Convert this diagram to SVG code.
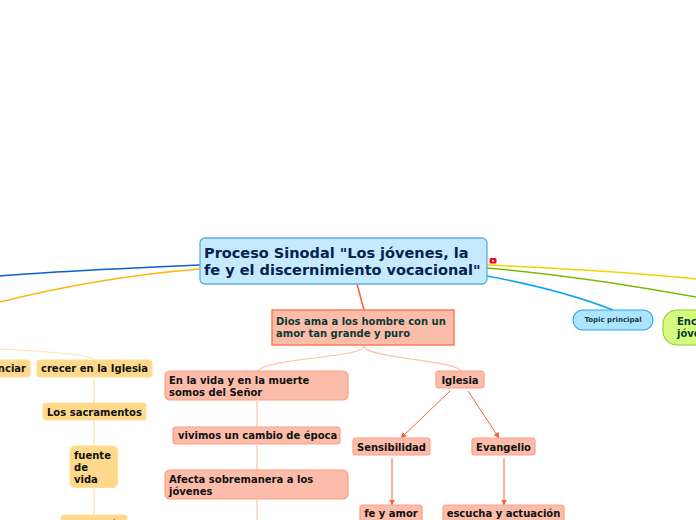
<svg xmlns="http://www.w3.org/2000/svg" width="696" height="520" viewBox="0 0 696 520">
<defs>
<marker id="arr" viewBox="0 0 6 6" refX="5.5" refY="3" markerWidth="6" markerHeight="6" markerUnits="userSpaceOnUse" orient="auto"><path d="M0 0L6 3L0 6Z" fill="#f9603a"/></marker>
</defs>
<style>
text{font-family:"DejaVu Sans",Verdana,sans-serif;font-weight:bold;font-size:10px;fill:#111}
.o{fill:#fed98b;stroke:#fedf9a;stroke-width:1.2}
.s{fill:#fbbcaa;stroke:#fd9f85;stroke-width:1.2}
.ol{fill:none;stroke:#fee2a8;stroke-width:1.2}
.sl{fill:none;stroke:#fcc0ae;stroke-width:1.2}
.ar{fill:none;stroke:#f9603a;stroke-width:1;marker-end:url(#arr)}
</style>
<g id="connectors" fill="none">
<path d="M200 265C130 268 60 271 0 276" stroke="#0b5fce" stroke-width="1.5"/>
<path d="M200 269C125 275 60 287 0 302" stroke="#fdb515" stroke-width="1.5"/>
<path d="M487 265C560 268 630 272 696 279" stroke="#f0d400" stroke-width="1.5"/>
<path d="M487 268C560 274 630 285 696 297" stroke="#7fb800" stroke-width="1.5"/>
<path d="M487 276C530 284 575 295 613 310" stroke="#10a4ee" stroke-width="1.5"/>
<path d="M357 284L364 310" stroke="#f9603a" stroke-width="1.5"/>
<path class="ol" d="M0 349C40 351 90 354 95 360"/>
<path class="ol" d="M94 378V403M94 421V446M94 488V514"/>
<path class="sl" d="M364 346C364 358 262 358 257 372M364 346C364 358 455 360 461 371"/>
<path class="sl" d="M257 401V427M257 445V470M257 500V520"/>
<path class="ar" d="M450 391L401 438"/>
<path class="ar" d="M468 391L499 438"/>
<path class="ar" d="M392 458V505"/>
<path class="ar" d="M504 458V505"/>
</g>
<g id="central"><rect x="200" y="238" width="287" height="46" rx="5" fill="#c5e9fd" stroke="#5aaee6" stroke-width="1.3"/>
<text x="204" y="258" style="font-size:14.500px;fill:#06224f">Proceso Sinodal "Los jóvenes, la</text>
<text x="204" y="275" style="font-size:14.500px;fill:#06224f">fe y el discernimiento vocacional"</text></g>
<g id="marker"><rect x="489.500" y="258" width="7" height="5.500" rx="1.500" fill="#ff0022"/><rect x="492" y="260" width="2" height="1.500" fill="#fff"/></g>
<g id="dios"><rect x="272" y="310" width="182" height="35" fill="#fbbcaa" stroke="#fb7d59" stroke-width="1.500"/>
<text x="276" y="325" style="fill:#0c3b30">Dios ama a los hombre con un</text>
<text x="276" y="337" style="fill:#0c3b30">amor tan grande y puro</text></g>
<g id="topic"><rect x="573" y="310" width="80" height="20" rx="10" fill="#aee5fd" stroke="#22a7ec" stroke-width="1.100"/>
<text x="613" y="322" text-anchor="middle" style="font-size:7px;fill:#0c3b4a">Topic principal</text></g>
<g id="encuentro"><rect x="663" y="310" width="70" height="35" rx="14" fill="#d3fb7f" stroke="#98c92e" stroke-width="1.100"/>
<text x="677" y="325" style="fill:#0c3b30">Encuentro con</text><text x="677" y="337" style="fill:#0c3b30">jóvenes</text></g>
<g id="anunciar"><rect x="-50" y="360" width="80" height="17" rx="3" class="o"/><text x="26" y="372" text-anchor="end">anunciar</text></g>
<g id="crecer"><rect x="37" y="360" width="115" height="17" rx="3" class="o"/><text x="41" y="372">crecer en la Iglesia</text></g>
<g id="sacramentos"><rect x="43" y="403" width="103" height="17" rx="3" class="o"/><text x="47" y="416">Los sacramentos</text></g>
<g id="fuente"><rect x="70" y="446" width="47.500" height="41.500" rx="5" class="o"/><text x="74" y="459">fuente</text><text x="74" y="471">de</text><text x="74" y="483">vida</text></g>
<g id="oracion"><rect x="61" y="515" width="66" height="20" rx="3" class="o"/><text x="65" y="528">La oración</text></g>
<g id="vida"><rect x="165" y="371" width="183" height="29" rx="5" class="s"/><text x="169" y="384">En la vida y en la muerte</text><text x="169" y="396">somos del Señor</text></g>
<g id="cambio"><rect x="173" y="427" width="167" height="17" rx="3" class="s"/><text x="178" y="439">vivimos un cambio de época</text></g>
<g id="afecta"><rect x="165" y="470" width="183" height="29" rx="5" class="s"/><text x="169" y="483">Afecta sobremanera  a los</text><text x="169" y="495">jóvenes</text></g>
<g id="iglesia"><rect x="436" y="371" width="48" height="17" rx="3" class="s"/><text x="460" y="384" text-anchor="middle">Iglesia</text></g>
<g id="sensibilidad"><rect x="353" y="438" width="77" height="17" rx="3" class="s"/><text x="391.500" y="451" text-anchor="middle">Sensibilidad</text></g>
<g id="evangelio"><rect x="472" y="438" width="63" height="17" rx="3" class="s"/><text x="503.500" y="451" text-anchor="middle">Evangelio</text></g>
<g id="feamor"><rect x="360" y="505" width="62" height="20" rx="3" class="s"/><text x="391" y="517" text-anchor="middle">fe y amor</text></g>
<g id="escucha"><rect x="443" y="505" width="121" height="20" rx="3" class="s"/><text x="503.500" y="517" text-anchor="middle">escucha y actuación</text></g>
</svg>
